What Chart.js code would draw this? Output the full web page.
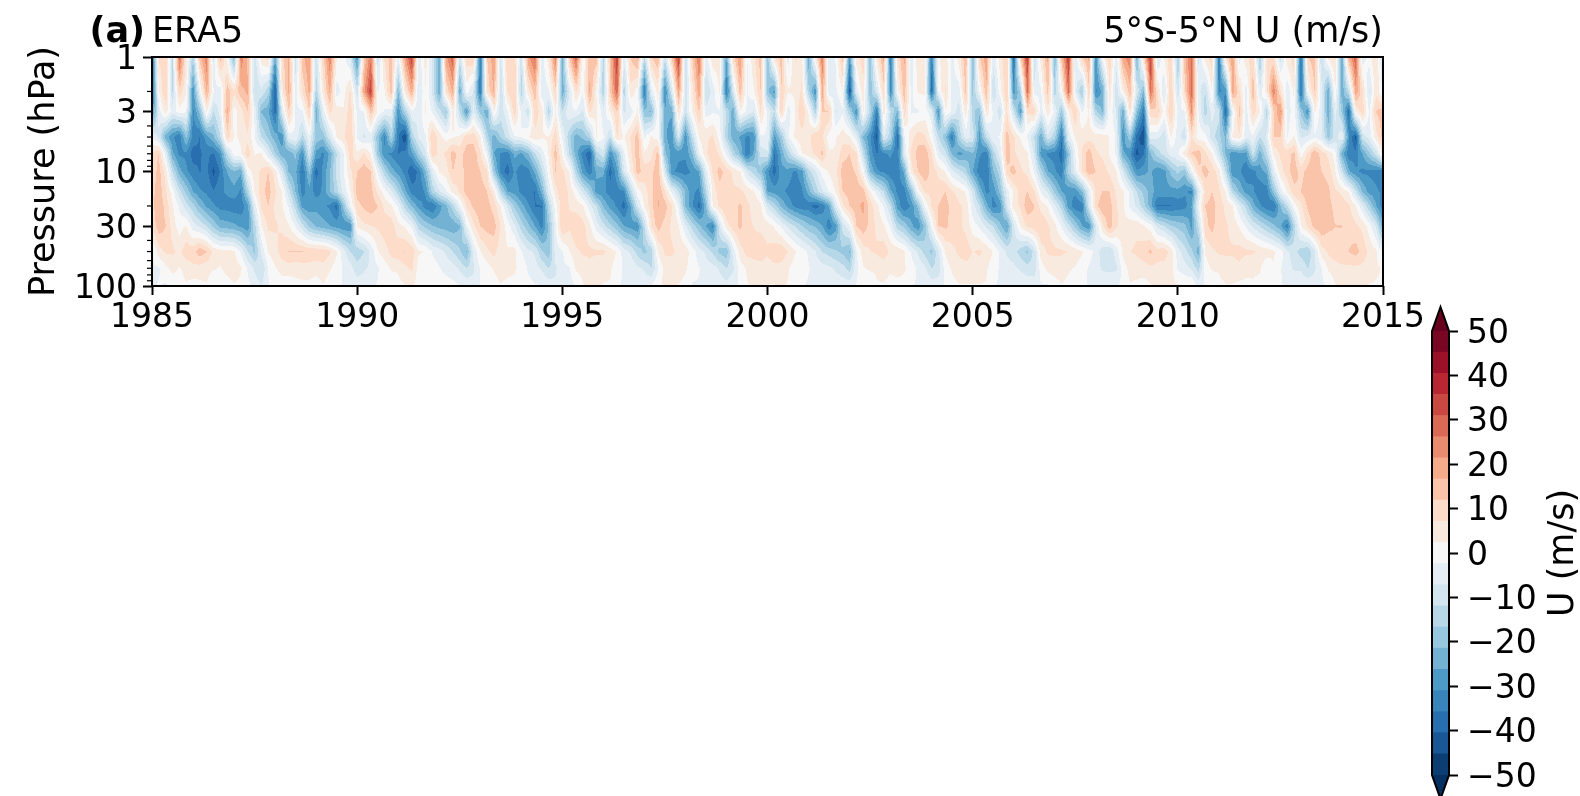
<!DOCTYPE html>
<html>
<head>
<meta charset="utf-8">
<title>ERA5 U</title>
<script src="https://cdn.jsdelivr.net/npm/chart.js@4"></script>
<style>
	body {margin:0; background:#fff;}
	canvas {position:absolute;}
	#main {left:0; top:0;}
	#cbar {left:1400px; top:290px;}
</style>
</head>
<body>
<canvas id="main" width="1580" height="340"></canvas>
<canvas id="cbar" width="180" height="506"></canvas>
<script>
//pressure levels (hPa), one row of zonal wind (m/s) per level, one value every 2 months from 1985
const levels=[1,2,3,5,7,10,15,20,30,50,70,100];
const u1=[-38,8,10,-12,28,5,-15,15,25,-8,15,0,-22,25,15,-10,5,10,-25,10,18,-10,15,22,-10,10,25,3,0,-8,
-30,12,25,-10,8,15,-3,20,35,-6,5,-8,-25,20,30,-10,10,12,-35,12,20,-8,12,10,-10,20,28,-5,5,25,
-25,12,30,-2,15,15,-15,15,35,-6,12,18,-12,12,16,-10,12,35,-12,12,26,-5,6,5,-25,10,22,-3,6,14,
-20,8,14,-5,8,5,-25,5,25,-6,-2,14,-28,5,10,-20,6,18,-35,8,18,-5,5,6,-35,2,5,-4,5,16,
-22,12,20,-6,5,12,-38,12,35,-12,5,18,-22,15,35,-8,12,18,-30,0,12,-6,20,25,-25,10,35,-8,3,12,
-18,15,28,-8,5,10,-35,8,20,-5,6,10,-18,8,8,-10,5,10,-38,12,15,-12,5,8,-25,18,30,-5,0,8,-10];
const u2=[-38,2,12,-12,10,3,-30,-3,18,-2,-5,15,8,15,18,-12,-8,-15,-42,5,18,-5,8,18,-15,5,18,-5,0,8,
-10,20,35,-3,2,15,-22,5,18,-8,2,-8,-25,8,18,-25,0,-8,-35,8,18,-12,8,12,-15,5,15,-6,-3,10,
-25,-8,8,-2,18,2,-15,12,30,-15,6,0,-35,-5,5,-32,-8,20,-10,5,20,-12,-5,3,-35,-8,15,-3,2,12,
-20,-28,12,3,3,8,-15,-30,20,-6,-3,2,-42,-5,6,-20,-8,10,-32,0,15,-4,3,3,-38,-2,8,-5,-5,14,
-18,-2,16,-12,0,12,-30,-15,28,-5,-3,14,-15,0,28,-5,-18,12,-32,-25,6,-10,3,15,-8,-22,28,8,-8,12,
-10,10,28,-5,-12,3,-32,-30,20,8,-5,15,-6,5,25,8,-6,4,-38,0,12,-5,-25,3,-25,-12,20,8,-8,6,-3];
const u3=[-30,-5,5,-5,0,-2,-32,-20,3,-12,-5,18,0,5,12,-3,-22,-25,-38,-8,12,-3,-3,12,-25,-5,8,5,3,10,
-3,-3,14,2,-3,-5,-30,-15,-3,-6,3,-3,-10,-18,5,-12,-28,-6,-18,-25,3,-10,-3,10,-3,-10,10,5,-15,3,
-12,-3,-3,-8,8,3,-5,3,12,-8,-5,3,-20,-22,2,-25,-25,8,-10,3,12,-5,-3,-3,-12,-25,2,-3,-8,8,
-3,-12,10,-5,2,12,2,-15,12,12,-8,-3,-15,-30,3,-14,-35,5,-12,-22,10,-3,-3,0,-5,-30,2,-3,-10,5,
-15,-20,6,-3,-10,8,-10,-28,8,10,-5,5,-3,-18,2,12,-3,3,-15,-22,2,-8,-25,8,-20,-35,10,12,0,12,
-3,-3,22,-2,-15,-5,-10,-38,-3,14,-5,10,3,-15,12,22,-5,0,-18,-30,3,-5,-25,-5,-18,-38,3,10,-3,12,15];
const u5=[-3,-8,-24,-30,-35,-20,-33,-36,-28,-22,-12,10,2,3,6,-2,-12,-18,-24,-30,-5,-3,-14,-3,-18,-20,-8,3,6,12,
-3,-8,-5,-20,-32,-15,-35,-45,-15,-6,-3,12,5,0,2,3,10,10,3,-15,-24,-16,-10,-3,-2,2,6,3,3,10,
-3,-15,-24,-20,-15,3,-2,-12,8,2,8,14,-3,3,0,-25,-30,-8,-30,-12,3,6,8,0,-15,-24,-27,-32,-30,-3,
-3,-28,-18,-3,3,5,5,12,8,0,2,5,3,-5,-22,-30,-42,-6,-15,-38,-3,5,10,8,0,-12,-20,-35,-15,-5,
-8,-28,-12,-3,-2,14,8,2,-3,-12,-25,-8,-15,-35,-5,3,5,5,5,5,2,-3,-30,-18,-38,-45,-5,-6,-10,3,
-5,-10,8,0,0,-10,-15,-22,3,6,-6,-3,-12,-6,12,12,-3,3,-8,-6,-3,-6,-18,-10,-3,-30,-42,-10,-5,5,14];
const u7=[8,12,-5,-25,-32,-32,-38,-36,-35,-36,-30,-12,0,2,10,2,3,-6,-16,-24,-25,-20,-30,-8,-28,-32,-25,-12,-3,10,
3,8,2,-18,-30,-32,-36,-34,-28,-16,-8,10,6,8,14,10,14,15,8,-3,-26,-32,-33,-25,-27,-22,-12,-5,3,14,
2,-12,-24,-33,-40,-15,-8,-30,-20,-3,6,15,3,6,14,-20,-28,-30,-30,-22,-3,6,12,6,-3,-14,-22,-35,-25,-10,
-8,-36,-25,-15,-6,2,5,8,13,3,3,10,12,8,-12,-28,-36,-32,-30,-35,-6,8,14,16,8,-5,-10,-22,-28,-25,
-22,-30,-34,-15,-5,15,8,5,3,-8,-28,-32,-33,-38,-20,-2,8,15,8,6,2,-3,-25,-30,-42,-36,-22,-14,-10,-5,
-3,5,12,15,8,3,-10,-22,-30,-28,-28,-10,-24,-12,3,8,10,13,0,8,16,10,6,0,-24,-34,-34,-26,-18,-10,5];
const u10=[8,14,5,-12,-24,-30,-34,-36,-34,-42,-35,-26,-22,-25,0,5,8,12,5,-8,-22,-25,-36,-20,-38,-30,-22,-10,-3,6,
12,15,12,-3,-15,-24,-28,-33,-40,-34,-22,-6,3,5,12,8,15,15,12,8,-18,-33,-38,-30,-34,-33,-25,-13,0,12,
8,3,-15,-28,-34,-25,-25,-38,-28,-8,3,14,10,10,16,-8,-30,-32,-33,-30,-26,-5,8,14,10,6,3,-8,-14,-20,
-30,-38,-28,-28,-32,-28,-14,-8,0,3,6,14,14,11,0,-22,-30,-32,-34,-34,-25,5,12,16,10,6,2,-6,-10,-15,
-26,-34,-36,-22,-14,10,14,8,6,-3,-15,-26,-30,-34,-15,-5,8,15,12,10,6,3,-8,-20,-30,-28,-25,-30,-28,-20,
-15,-20,-3,10,14,10,5,-12,-30,-30,-35,-33,-28,-25,-5,5,10,15,10,14,15,12,10,3,-10,-25,-30,-32,-32,-33,-34];
const u15=[10,15,8,0,-10,-18,-26,-30,-32,-35,-32,-30,-28,-32,-15,3,10,14,8,3,-10,-22,-33,-28,-33,-30,-22,-14,-5,2,
14,15,14,6,0,-6,-15,-25,-33,-35,-30,-15,-8,-3,4,8,14,15,14,12,5,-14,-26,-28,-32,-35,-36,-24,-6,5,
12,6,0,-8,-16,-28,-30,-33,-33,-32,-14,0,5,10,17,8,-3,-12,-22,-30,-32,-14,4,10,8,8,8,6,3,-3,
-26,-28,-30,-32,-35,-32,-24,-15,-8,-2,3,12,14,16,14,3,-5,-12,-25,-32,-33,-22,0,8,8,10,12,8,5,2,
-8,-22,-32,-30,-20,-5,3,10,12,8,-3,-8,-18,-26,-30,-30,-22,-5,8,12,12,6,3,-3,-12,-18,-24,-28,-28,-28,
-28,-30,-32,-8,8,12,8,3,-14,-22,-28,-30,-35,-33,-20,-5,3,10,12,15,16,15,13,8,6,2,-10,-22,-28,-30,-32];
const u20=[10,16,10,3,-3,-10,-15,-22,-27,-30,-33,-33,-34,-34,-28,-5,8,12,6,3,-3,-14,-28,-30,-28,-30,-32,-38,-20,-2,
10,13,15,12,6,3,-3,-14,-22,-28,-33,-36,-28,-23,-14,-3,8,13,15,14,10,2,-8,-18,-24,-30,-36,-36,-14,0,
10,7,5,3,-5,-12,-22,-28,-32,-38,-26,-8,3,10,17,14,8,-3,-22,-30,-38,-22,3,8,12,10,13,8,6,4,
-8,-14,-22,-28,-32,-34,-34,-38,-34,-26,-6,6,12,15,18,10,4,-3,-12,-28,-35,-30,-20,-2,8,12,14,10,8,6,
-5,-12,-24,-33,-30,-8,5,8,15,12,5,2,-6,-14,-28,-34,-34,-8,10,16,14,8,3,-3,-8,-15,-24,-36,-36,-36,
-34,-33,-26,-3,12,14,10,6,3,-6,-14,-24,-30,-34,-36,-22,-12,0,6,13,16,15,13,11,10,8,3,-6,-16,-26,-34];
const u30=[8,15,12,5,0,3,-5,-8,-12,-18,-23,-24,-25,-27,-30,-14,2,8,8,6,3,-3,-10,-18,-22,-24,-26,-28,-30,-30,
3,6,7,8,10,10,4,2,-3,-14,-18,-21,-23,-24,-25,-22,-3,6,12,14,14,7,0,-6,-14,-20,-26,-33,-20,-3,
12,8,12,9,4,-5,-10,-15,-20,-26,-28,-30,-12,8,14,10,6,3,-6,-14,-20,-26,-33,-8,5,10,13,8,7,6,
5,2,-3,-8,-12,-16,-20,-22,-26,-34,-28,-10,-3,12,15,10,6,3,-3,-14,-18,-25,-30,-20,-2,12,13,10,8,6,
0,-3,-8,-12,-20,-27,-8,3,8,10,12,8,4,-3,-10,-18,-26,-30,-8,6,15,8,4,5,6,3,0,-8,-12,-16,
-18,-20,-28,-12,10,14,8,8,5,2,-3,-8,-12,-16,-20,-25,-34,-14,2,8,14,16,13,12,12,10,8,6,0,-8,-25];
const u50=[-3,5,8,8,6,10,10,15,12,6,4,4,3,-3,-12,-18,-6,3,5,10,12,12,12,11,11,11,8,3,-5,-12,
-15,-12,-6,2,5,9,11,12,10,3,2,-3,-5,-8,-12,-16,-22,-6,2,6,9,4,3,4,-2,-6,-8,-16,-20,-5,
-3,2,6,8,8,8,8,5,2,-5,-8,-14,-18,-15,3,8,8,6,5,0,-5,-8,-13,-18,-20,-5,5,9,9,10,
8,10,11,7,3,0,-3,-7,-12,-14,-16,-18,-22,-3,5,7,8,10,6,6,3,-3,-8,-14,-18,-8,3,6,8,10,
7,8,6,2,-3,-8,-10,-14,-18,-10,5,8,8,8,7,5,3,0,-4,-10,-12,-5,4,7,8,10,13,9,10,5,
-5,-10,-15,-24,3,6,8,8,8,9,8,8,6,5,3,0,-6,-10,-14,-16,-8,5,8,10,11,12,14,10,6,3,-3];
const u70=[-3,-3,1,4,2,4,6,5,4,3,2,4,5,3,-3,-8,-12,-2,2,4,5,4,5,5,4,5,3,0,-3,-5,
-10,-8,-6,-3,0,3,3,6,8,0,0,0,-2,-4,-5,-8,-12,-8,-2,0,3,5,4,3,1,-3,-5,-8,-12,-8,
-3,-3,3,4,6,4,4,3,0,-3,-3,-6,-8,-12,-3,5,5,5,3,0,-2,-5,-5,-8,-12,-8,0,3,5,5,
5,6,5,3,0,0,-2,-4,-5,-6,-8,-10,-14,-4,2,3,3,4,3,4,3,0,-3,-6,-12,-10,0,3,5,5,
5,5,3,0,-3,-5,-6,-8,-10,-10,0,4,5,5,3,2,0,-3,-5,-8,-8,-8,0,4,5,5,6,6,5,5,
-3,-5,-8,-14,0,3,3,5,5,6,4,3,3,-2,2,-2,-5,-8,-8,-12,-8,-3,3,5,6,6,6,6,5,3,2];
const u100=[-3,-2,-3,-1,0,2,0,1,2,-2,0,0,2,1,-1,-4,-7,-3,0,0,-1,1,1,1,0,2,0,-1,-3,-3,
-4,-4,-3,-2,2,-1,1,2,3,0,0,0,0,0,-1,-2,-3,-5,-2,-1,0,2,1,1,-1,-1,-2,-2,-4,-6,
-5,-5,-2,2,3,3,2,2,-2,-3,-4,-4,-3,-2,2,3,3,2,1,-3,-3,-3,-4,-4,-5,-3,-2,2,3,3,
2,2,3,2,-1,-2,-3,-3,-3,-4,-4,-4,-4,-2,1,-1,2,2,1,1,1,-2,-3,-3,-4,-4,-2,1,2,2,
2,2,2,-2,-3,-3,-3,-3,-3,-4,-3,-3,0,2,1,0,-1,-3,-3,-3,-4,-3,-1,2,1,0,2,3,3,3,
3,2,3,-4,-2,-1,1,2,2,1,1,2,1,0,1,-2,-3,-3,-3,-3,-4,-3,-2,2,3,3,3,3,2,2,2];
const rows=[u1,u2,u3,u5,u7,u10,u15,u20,u30,u50,u70,u100];
const months=u1.map((v,i) => 1985+i/6);

const yTicks=[1,3,10,30,100];
const yMinor=[2,4,5,6,7,8,9,20,40,50,60,70,80,90];
const xTicks=[1985,1990,1995,2000,2005,2010,2015];
const cbTicks=[-50,-40,-30,-20,-10,0,10,20,30,40,50];

//colours of the 21 filled bands, low to high, then the two extend triangles
const bands=['#0c3d73','#195797','#286fb0','#3884bb','#4e9ac7','#74b2d4','#98c8e0','#b6d7e8','#d3e6f0','#e5eef4','#f7f7f7',
	'#f9eae0','#fddcc9','#f9c4a9','#f5aa89','#e98b6e','#da6a55','#ca4842','#b92732','#9d1128','#790622'];
const under='#053061';
const over='#67001f';
const vMin=-50;
const vMax=50;
const step=(vMax-vMin)/bands.length;

const font='"DejaVu Sans"';
const size=33;
const titleSize=35;

function hexToRgb(c) {
	return [parseInt(c.slice(1,3),16),parseInt(c.slice(3,5),16),parseInt(c.slice(5,7),16)];
}

function bandColor(v) {
	let k=Math.floor((v-vMin)/step);
	if (k<0) return under;
	if (k>=bands.length) return over;
	return bands[k];
}

//fills the plot area like contourf, reading the grid from the datasets and positions from the scales
const contourFill={
	id:'contourFill',
	beforeDatasetsDraw(chart) {
		const {ctx,chartArea:a,scales:{x,y}}=chart;
		const sets=chart.data.datasets;
		const w=Math.round(a.right-a.left);
		const h=Math.round(a.bottom-a.top);
		const img=ctx.createImageData(w,h);
		const cache={};
		const logLev=levels.map(Math.log);
		for (let py=0;py<h;py++) {
			const lp=Math.log(y.getValueForPixel(a.top+py+0.5));
			let j=0;
			while (j<levels.length-2 && lp>logLev[j+1]) j++;
			const fy=Math.min(1,Math.max(0,(lp-logLev[j])/(logLev[j+1]-logLev[j])));
			for (let px=0;px<w;px++) {
				const t=x.getValueForPixel(a.left+px+0.5);
				const c=Math.min(months.length-2,Math.max(0,Math.floor((t-months[0])*6)));
				const fx=Math.min(1,Math.max(0,(t-months[c])*6));
				const top=sets[j].data[c].v*(1-fx)+sets[j].data[c+1].v*fx;
				const bot=sets[j+1].data[c].v*(1-fx)+sets[j+1].data[c+1].v*fx;
				const col=bandColor(top*(1-fy)+bot*fy);
				const rgb=cache[col] || (cache[col]=hexToRgb(col));
				const n=(py*w+px)*4;
				img.data[n]=rgb[0];
				img.data[n+1]=rgb[1];
				img.data[n+2]=rgb[2];
				img.data[n+3]=255;
			}
		}
		ctx.putImageData(img,Math.round(a.left),Math.round(a.top));
	},
	afterDraw(chart) {
		const {ctx,chartArea:a,scales:{y}}=chart;
		ctx.save();
		ctx.strokeStyle='#000';
		ctx.lineWidth=1.2;
		yMinor.forEach(p => {
			const py=y.getPixelForValue(p);
			ctx.beginPath();
			ctx.moveTo(a.left-5,py);
			ctx.lineTo(a.left,py);
			ctx.stroke();
		});
		ctx.lineWidth=2;
		ctx.strokeRect(a.left,a.top,a.right-a.left,a.bottom-a.top);
		ctx.fillStyle='#000';
		ctx.textBaseline='alphabetic';
		ctx.font='bold '+titleSize+'px '+font;
		ctx.textAlign='right';
		ctx.fillText('(a)',a.left-7,42);
		ctx.font=titleSize+'px '+font;
		ctx.textAlign='left';
		ctx.fillText('ERA5',a.left,42);
		ctx.textAlign='right';
		ctx.fillText('5°S-5°N U (m/s)',a.right,42);
		ctx.restore();
	}
};

//extend triangles, outline and rotated label of the colour bar
const cbarExtras={
	id:'cbarExtras',
	afterDraw(chart) {
		const {ctx,chartArea:a}=chart;
		const mid=(a.left+a.right)/2;
		const tip=24;
		ctx.save();
		ctx.fillStyle=over;
		ctx.beginPath();
		ctx.moveTo(a.left,a.top);
		ctx.lineTo(mid,a.top-tip);
		ctx.lineTo(a.right,a.top);
		ctx.closePath();
		ctx.fill();
		ctx.fillStyle=under;
		ctx.beginPath();
		ctx.moveTo(a.left,a.bottom);
		ctx.lineTo(mid,a.bottom+tip);
		ctx.lineTo(a.right,a.bottom);
		ctx.closePath();
		ctx.fill();
		ctx.strokeStyle='#000';
		ctx.lineWidth=2;
		ctx.beginPath();
		ctx.moveTo(a.left,a.top);
		ctx.lineTo(mid,a.top-tip);
		ctx.lineTo(a.right,a.top);
		ctx.lineTo(a.right,a.bottom);
		ctx.lineTo(mid,a.bottom+tip);
		ctx.lineTo(a.left,a.bottom);
		ctx.closePath();
		ctx.stroke();
		ctx.translate(173,(a.top+a.bottom)/2);
		ctx.rotate(-Math.PI/2);
		ctx.fillStyle='#000';
		ctx.font=titleSize+'px '+font;
		ctx.textAlign='center';
		ctx.fillText('U (m/s)',0,0);
		ctx.restore();
	}
};

//chart.js reserves room for the outer tick labels, the layout here is fixed so drop that
function fixPadding(s) {
	s.paddingTop=0;
	s.paddingBottom=0;
	s.paddingLeft=0;
	s.paddingRight=0;
}

new Chart(document.getElementById('main'),{
	type:'scatter',
	data:{
		datasets:rows.map((r,j) => ({
			label:levels[j]+' hPa',
			data:r.map((v,i) => ({x:months[i],y:levels[j],v:v})),
			pointRadius:0,
			showLine:false
		}))
	},
	plugins:[contourFill],
	options:{
		responsive:false,
		animation:false,
		events:[],
		layout:{padding:{left:0,right:197,top:57,bottom:0}},
		plugins:{legend:{display:false},tooltip:{enabled:false}},
		scales:{
			x:{
				type:'linear',
				min:1985,
				max:2015,
				afterBuildTicks:s => {s.ticks=xTicks.map(v => ({value:v}));},
				afterFit:s => {s.height=54; fixPadding(s);},
				border:{display:false},
				grid:{drawOnChartArea:false,tickLength:9,tickColor:'#000',tickWidth:2},
				ticks:{color:'#000',font:{family:font,size:size},padding:4,maxRotation:0,autoSkip:false,callback:v => String(v)}
			},
			y:{
				type:'logarithmic',
				reverse:true,
				min:1,
				max:100,
				afterBuildTicks:s => {s.ticks=yTicks.map(v => ({value:v}));},
				afterFit:s => {s.width=152; fixPadding(s);},
				border:{display:false},
				grid:{drawOnChartArea:false,tickLength:9,tickColor:'#000',tickWidth:2},
				title:{display:true,text:'Pressure (hPa)',color:'#000',font:{family:font,size:titleSize},padding:{top:24,bottom:0}},
				ticks:{color:'#000',font:{family:font,size:size},padding:6,labelOffset:3,autoSkip:false,callback:v => String(v)}
			}
		}
	}
});

new Chart(document.getElementById('cbar'),{
	type:'bar',
	data:{
		labels:['U'],
		datasets:bands.map((c,k) => ({
			label:'band '+k,
			data:[[vMin+k*step,vMin+(k+1)*step]],
			backgroundColor:c,
			barPercentage:1,
			categoryPercentage:1,
			grouped:false
		}))
	},
	plugins:[cbarExtras],
	options:{
		responsive:false,
		animation:false,
		events:[],
		layout:{padding:{left:32,right:0,top:41,bottom:21}},
		plugins:{legend:{display:false},tooltip:{enabled:false}},
		scales:{
			x:{display:false},
			y:{
				position:'right',
				min:vMin,
				max:vMax,
				afterBuildTicks:s => {s.ticks=cbTicks.map(v => ({value:v}));},
				afterFit:s => {s.width=131; fixPadding(s);},
				border:{display:false},
				grid:{drawOnChartArea:false,tickLength:9,tickColor:'#000',tickWidth:2},
				ticks:{color:'#000',font:{family:font,size:size},padding:9,labelOffset:3,autoSkip:false,
					callback:v => String(v).replace('-','\u2212')}
			}
		}
	}
});
</script>
</body>
</html>
